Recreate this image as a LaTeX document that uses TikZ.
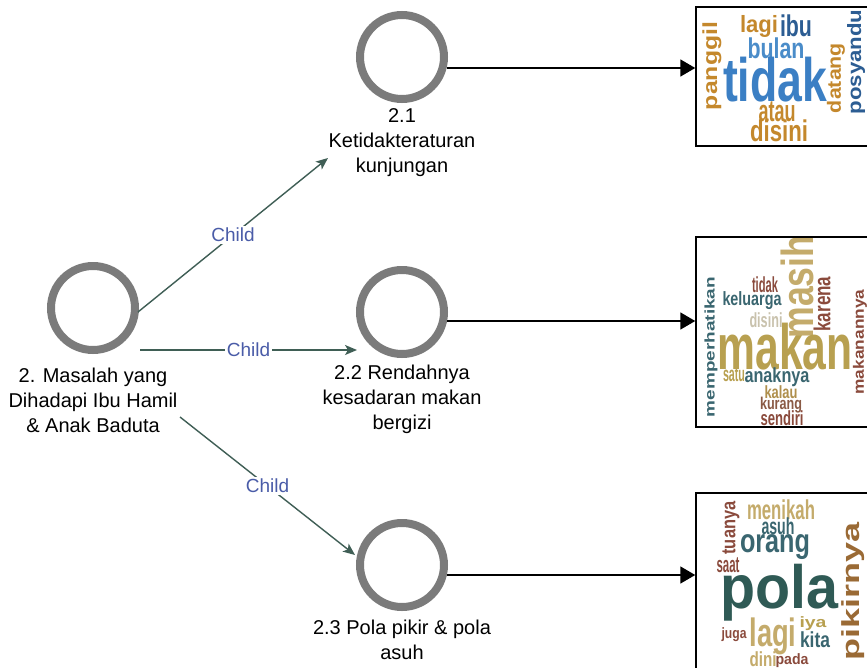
\documentclass[tikz,border=0pt]{standalone}
\usepackage{fontspec}
\setmainfont{Liberation Sans}
\newfontfamily\wcfont{Liberation Sans}
\usepackage{graphicx}
\usetikzlibrary{arrows.meta}
\definecolor{ringgray}{HTML}{7B7B7B}
\definecolor{edgegreen}{HTML}{3F5E55}
\definecolor{childblue}{HTML}{4A5CA8}
\definecolor{wcorange}{HTML}{C4882C}
\definecolor{wcblue}{HTML}{3B7FC4}
\definecolor{wclblue}{HTML}{4A8CC9}
\definecolor{wcdblue}{HTML}{2C5D93}
\definecolor{wcteal}{HTML}{3A6670}
\definecolor{wckhaki}{HTML}{C4AB6B}
\definecolor{wcolive}{HTML}{B8A050}
\definecolor{wcred}{HTML}{8A4A3C}
\definecolor{wcbrown}{HTML}{8A5A45}
\definecolor{wcpale}{HTML}{C9C2AD}
\definecolor{wcdteal}{HTML}{2F5A55}
\definecolor{wcochre}{HTML}{9A6A35}
\newcommand\wcw[3]{\resizebox*{#1pt}{#2pt}{\wcfont\bfseries #3}}
\begin{document}
\begin{tikzpicture}[x=1pt,y=-1pt,
  ring/.style={circle, draw=ringgray, line width=8pt, minimum size=84pt, inner sep=0pt},
  lbl/.style={align=center, font=\fontsize{20pt}{25pt}\selectfont, inner sep=0pt},
  childedge/.style={draw=edgegreen, line width=1.4pt, -{Stealth[length=12pt,width=10pt,inset=3pt]}},
  childlbl/.style={fill=white, text=childblue, font=\fontsize{19pt}{22pt}\selectfont, inner sep=2pt},
  conn/.style={draw=black, line width=1.8pt, -{Triangle[length=15pt,width=17pt]}},
  cloudbox/.style={draw=black, line width=1.5pt, inner sep=0pt, fill=none},
  wc/.style={inner sep=0pt, outer sep=0pt}]
\useasboundingbox (0,0) rectangle (867,667);
\clip (0,0) rectangle (867,667);
\fill[white] (0,0) rectangle (867,667);

% main nodes
\node[ring] (r) at (93,308) {};
\node[lbl] (rl) at (93,400) {2. Masalah yang\\Dihadapi Ibu Hamil\\\& Anak Baduta};
\node[ring] (c1) at (402,57) {};
\node[lbl] (l1) at (402,143) {2.1\\Ketidakteraturan\\kunjungan};
\node[ring] (c2) at (402,312) {};
\node[lbl] (l2) at (402,399) {2.2 Rendahnya\\kesadaran makan\\bergizi};
\node[ring] (c3) at (402,565) {};
\node[lbl] (l3) at (402,640) {2.3 Pola pikir \& pola\\asuh};

% child edges
\coordinate (e1s) at (138,312);
\coordinate (e1e) at (328,158);
\coordinate (e2s) at (140,350);
\coordinate (e2e) at (357,350);
\coordinate (e3s) at (180,417);
\coordinate (e3e) at (355,555);
\draw[childedge] (e1s) -- node[childlbl] (k1) {Child} (e1e);
\draw[childedge] (e2s) -- node[childlbl] (k2) {Child} (e2e);
\draw[childedge] (e3s) -- node[childlbl] (k3) {Child} (e3e);

% word cloud 1
\node[wc, text=wcorange, rotate=90] (w11) at (712,66) {\wcw{88}{19}{panggil}};
\node[wc, text=wcorange] (w12) at (759,26) {\wcw{38}{22}{lagi}};
\node[wc, text=wcdblue] (w13) at (796,26) {\wcw{32}{22}{ibu}};
\node[wc, text=wclblue] (w14) at (776,48) {\wcw{57}{21}{bulan}};
\node[wc, text=wcblue] (w15) at (775,80) {\wcw{104}{45}{tidak}};
\node[wc, text=wcorange] (w16) at (777,112) {\wcw{37}{20}{atau}};
\node[wc, text=wcorange] (w17) at (779,131) {\wcw{58}{22}{disini}};
\node[wc, text=wcorange, rotate=90] (w18) at (836,78) {\wcw{70}{18}{datang}};
\node[wc, text=wcdblue, rotate=90] (w19) at (856,62) {\wcw{105}{18}{posyandu}};

% word cloud 2
\node[wc, text=wcteal, rotate=90] (w21) at (711,347) {\wcw{140}{13}{memperhatikan}};
\node[wc, text=wcred] (w22) at (765,285) {\wcw{26}{16}{tidak}};
\node[wc, text=wcteal] (w23) at (752,301) {\wcw{59}{18}{keluarga}};
\node[wc, text=wckhaki, rotate=90] (w24) at (797,287) {\wcw{103}{33}{masih}};
\node[wc, text=wcred, rotate=90] (w25) at (822,304) {\wcw{55}{17}{karena}};
\node[wc, text=wcpale] (w26) at (766,320) {\wcw{33}{15}{disini}};
\node[wc, text=wcolive] (w27) at (785,347) {\wcw{135}{47}{makan}};
\node[wc, text=wcred, rotate=90] (w28) at (860,342) {\wcw{105}{14}{makanannya}};
\node[wc, text=wcolive] (w29) at (734,375) {\wcw{22}{14}{satu}};
\node[wc, text=wcteal] (w210) at (777,377) {\wcw{65}{19}{anaknya}};
\node[wc, text=wcolive!80!wcred] (w211) at (781,392) {\wcw{33}{13}{kalau}};
\node[wc, text=wcbrown] (w212) at (781,405) {\wcw{42}{16}{kurang}};
\node[wc, text=wcred] (w213) at (782,418) {\wcw{43}{15}{sendiri}};

% word cloud 3
\node[wc, text=wcred, rotate=90] (w31) at (731,528) {\wcw{53}{17}{tuanya}};
\node[wc, text=wckhaki] (w32) at (781,510) {\wcw{68}{20}{menikah}};
\node[wc, text=wcteal] (w33) at (778,526) {\wcw{33}{17}{asuh}};
\node[wc, text=wcteal] (w34) at (775,547) {\wcw{70}{25}{orang}};
\node[wc, text=wcred] (w35) at (728,565) {\wcw{23}{15}{saat}};
\node[wc, text=wcdteal] (w36) at (779,593) {\wcw{118}{57}{pola}};
\node[wc, text=wcochre, rotate=90] (w37) at (853,591) {\wcw{138}{23}{pikirnya}};
\node[wc, text=wcred] (w38) at (734,635) {\wcw{25}{14}{juga}};
\node[wc, text=wckhaki] (w39) at (773,636) {\wcw{47}{37}{lagi}};
\node[wc, text=wcolive] (w310) at (813,624) {\wcw{27}{14}{iya}};
\node[wc, text=wcteal] (w311) at (815,640) {\wcw{30}{16}{kita}};
\node[wc, text=wckhaki] (w312) at (763,659) {\wcw{27}{15}{dini}};
\node[wc, text=wcred] (w313) at (792,661) {\wcw{33}{14}{pada}};

% boxes
\node[cloudbox, minimum width=184pt, minimum height=139pt] (b1) at (788,76.5) {};
\node[cloudbox, minimum width=184pt, minimum height=190pt] (b2) at (788,332) {};
\node[cloudbox, minimum width=184pt, minimum height=207pt] (b3) at (788,596.5) {};

% connectors to clouds
\coordinate (a1) at (447,68);
\coordinate (a2) at (447,321);
\coordinate (a3) at (447,575);
\draw[conn] (a1) -- (b1.west |- a1);
\draw[conn] (a2) -- (b2.west |- a2);
\draw[conn] (a3) -- (b3.west |- a3);
\end{tikzpicture}
\end{document}
